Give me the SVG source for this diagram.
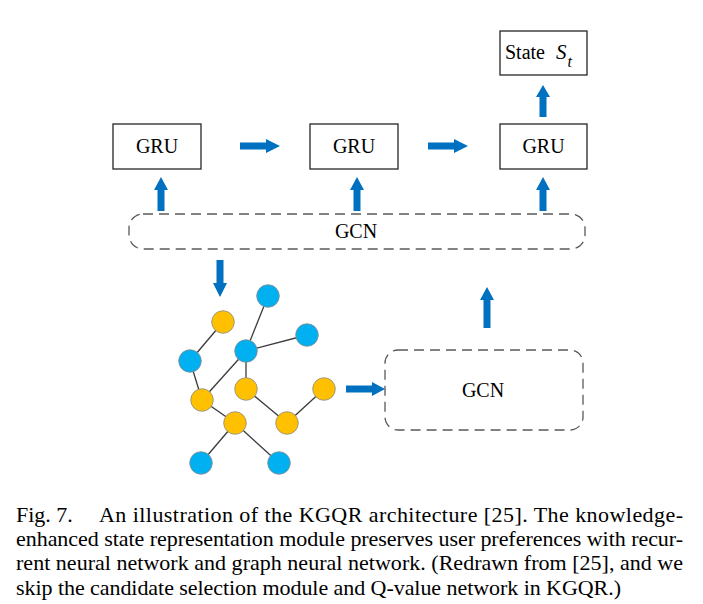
<svg xmlns="http://www.w3.org/2000/svg" width="703" height="604" viewBox="0 0 703 604">
<style>
.box{fill:#fff;stroke:#262626;stroke-width:1.3}
.dash{fill:none;stroke:#595959;stroke-width:1.3;stroke-dasharray:10 6}
.lbl{font-family:"Liberation Serif","Times New Roman",serif;font-size:20px;fill:#000}
.arr{fill:#0070C0}
.edge{stroke:#3a3a3a;stroke-width:1.3}
.b{fill:#00B0F0;stroke:#8a8a8a;stroke-width:0.8}
.y{fill:#FFC000;stroke:#8a8a8a;stroke-width:0.8}
.cap{font-family:"Liberation Serif","Times New Roman",serif;font-size:22px;fill:#000}
</style>
<rect width="703" height="604" fill="#fff"/>
<g id="state">
<rect class="box" x="500" y="31" width="87" height="44"/>
<text class="lbl" x="505" y="59">State <tspan x="556" font-style="italic" font-size="21">S</tspan><tspan font-style="italic" font-size="16" dx="1" dy="8">t</tspan></text>
</g>
<g id="gru1"><rect class="box" x="113" y="124" width="88" height="45"/><text class="lbl" x="157" y="153" text-anchor="middle">GRU</text></g>
<g id="gru2"><rect class="box" x="310" y="124" width="88" height="45"/><text class="lbl" x="354" y="153" text-anchor="middle">GRU</text></g>
<g id="gru3"><rect class="box" x="500" y="124" width="87" height="45"/><text class="lbl" x="543.5" y="153" text-anchor="middle">GRU</text></g>
<g id="gcn-top"><rect class="dash" x="129" y="214" width="456" height="35" rx="14"/><text class="lbl" x="356" y="238" text-anchor="middle">GCN</text></g>
<g id="gcn-bottom"><rect class="dash" x="385" y="350" width="198" height="80" rx="13"/><text class="lbl" x="483" y="397" text-anchor="middle">GCN</text></g>
<g id="graph">
<g class="edges">
<line class="edge" x1="223" y1="322" x2="190" y2="361"/>
<line class="edge" x1="190" y1="361" x2="202" y2="400"/>
<line class="edge" x1="202" y1="400" x2="246" y2="351"/>
<line class="edge" x1="246" y1="351" x2="268" y2="296"/>
<line class="edge" x1="246" y1="351" x2="307" y2="335"/>
<line class="edge" x1="246" y1="351" x2="246" y2="389"/>
<line class="edge" x1="246" y1="389" x2="287" y2="423"/>
<line class="edge" x1="287" y1="423" x2="324" y2="389"/>
<line class="edge" x1="202" y1="400" x2="235" y2="423"/>
<line class="edge" x1="235" y1="423" x2="201" y2="463"/>
<line class="edge" x1="235" y1="423" x2="279" y2="463"/>
</g>
<circle class="b" cx="268" cy="296" r="11.3"/>
<circle class="y" cx="223" cy="322" r="11.3"/>
<circle class="b" cx="307" cy="335" r="11.3"/>
<circle class="b" cx="246" cy="351" r="11.3"/>
<circle class="b" cx="190" cy="361" r="11.3"/>
<circle class="y" cx="246" cy="389" r="11.3"/>
<circle class="y" cx="324" cy="389" r="11.3"/>
<circle class="y" cx="202" cy="400" r="11.3"/>
<circle class="y" cx="235" cy="423" r="11.3"/>
<circle class="y" cx="287" cy="423" r="11.3"/>
<circle class="b" cx="201" cy="463" r="11.3"/>
<circle class="b" cx="279" cy="463" r="11.3"/>
</g>
<g id="connectors">
<polygon class="arr" points="240,142.5 266,142.5 266,139 280,146 266,153 266,149.5 240,149.5"/>
<polygon class="arr" points="428,142.5 454,142.5 454,139 468,146 454,153 454,149.5 428,149.5"/>
<polygon class="arr" points="157.5,211 157.5,190 154,190 161,177 168,190 164.5,190 164.5,211"/>
<polygon class="arr" points="353.5,211 353.5,190 350,190 357,177 364,190 360.5,190 360.5,211"/>
<polygon class="arr" points="539.5,211 539.5,190 536,190 543,177 550,190 546.5,190 546.5,211"/>
<polygon class="arr" points="539.5,117 539.5,97 536,97 543,85 550,97 546.5,97 546.5,117"/>
<polygon class="arr" points="216.5,260 223.5,260 223.5,283 227,283 220,297 213,283 216.5,283"/>
<polygon class="arr" points="483.5,328 483.5,300 480,300 487,287 494,300 490.5,300 490.5,328"/>
<polygon class="arr" points="346,385.5 372,385.5 372,382 385,389 372,396 372,392.5 346,392.5"/>
</g>
<g id="caption">
<text class="cap" x="16" y="522">Fig. 7.</text>
<text class="cap" x="99" y="522" textLength="584" lengthAdjust="spacing">An illustration of the KGQR architecture [25]. The knowledge-</text>
<text class="cap" x="16" y="546" textLength="667" lengthAdjust="spacing">enhanced state representation module preserves user preferences with recur-</text>
<text class="cap" x="16" y="570" textLength="667" lengthAdjust="spacing">rent neural network and graph neural network. (Redrawn from [25], and we</text>
<text class="cap" x="16" y="595" textLength="605" lengthAdjust="spacing">skip the candidate selection module and Q-value network in KGQR.)</text>
</g>
</svg>
